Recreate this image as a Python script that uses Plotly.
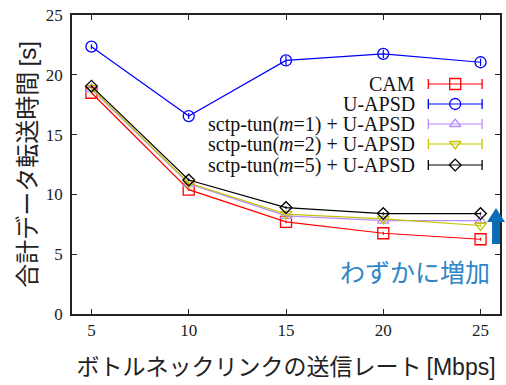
import plotly.graph_objects as go

# Bottleneck link rate [Mbps]
rates = [5, 10, 15, 20, 25]

# Total data transfer time [s] per scheme
cam = [18.5, 10.4, 7.7, 6.75, 6.25]
u_apsd = [22.35, 16.55, 21.2, 21.75, 21.05]
tun_m1 = [18.8, 10.9, 8.2, 7.8, 7.8]
tun_m2 = [18.9, 10.95, 8.35, 7.95, 7.4]
tun_m5 = [19.05, 11.2, 8.9, 8.4, 8.4]

# Error-bar half widths
cam_err = [0.12, 0.12, 0.12, 0.12, 0.12]
u_apsd_err = [0.2, 0.25, 0.4, 0.35, 0.3]
tun_m1_err = [0.1, 0.1, 0.1, 0.1, 0.1]
tun_m2_err = [0.1, 0.1, 0.1, 0.1, 0.1]
tun_m5_err = [0.1, 0.1, 0.1, 0.1, 0.1]

series_names = [
    "CAM",
    "U-APSD",
    "sctp-tun(<i>m</i>=1) + U-APSD",
    "sctp-tun(<i>m</i>=2) + U-APSD",
    "sctp-tun(<i>m</i>=5) + U-APSD",
]
series_values = [cam, u_apsd, tun_m1, tun_m2, tun_m5]
series_errors = [cam_err, u_apsd_err, tun_m1_err, tun_m2_err, tun_m5_err]
series_colors = ["#ff0000", "#0000ff", "#b68cff", "#c4c400", "#000000"]
series_symbols = ["square-open", "circle-open", "triangle-up-open",
                  "triangle-down-open", "diamond-open"]
series_sizes = [11, 11, 10, 10, 9]

W, H = 506, 385
L, R, T, B = 72, 4, 15, 71
PW, PH = W - L - R, H - T - B


def px_x(p):
    return (p - L) / PW


def px_y(p):
    return (H - B - p) / PH


fig = go.Figure()

for name, vals, errs, col, sym, size in zip(series_names, series_values, series_errors,
                                            series_colors, series_symbols, series_sizes):
    fig.add_trace(go.Scatter(
        x=rates, y=vals, name=name, mode="lines+markers",
        line=dict(color=col, width=1.2),
        marker=dict(symbol=sym, size=size, color=col, line=dict(width=1.3, color=col)),
        error_y=dict(type="data", array=errs, color=col, thickness=1.2, width=0),
        showlegend=False,
    ))

# Key: label on the left, sample line with end caps and marker on the right
key_rows = [84, 104, 124, 144, 165]
key_x0, key_x1, key_xm, key_text_x = 430, 484, 457, 419
for name, col, sym, size, row in zip(series_names, series_colors, series_symbols,
                                     series_sizes, key_rows):
    yk = px_y(row)
    fig.add_trace(go.Scatter(
        x=[px_x(key_x0), px_x(key_x1)], y=[yk, yk], mode="lines+markers",
        line=dict(color=col, width=1.2),
        marker=dict(symbol="line-ns", size=7, line=dict(width=1.3, color=col)),
        xaxis="x2", yaxis="y2", showlegend=False, hoverinfo="skip",
    ))
    fig.add_trace(go.Scatter(
        x=[px_x(key_xm)], y=[yk], mode="markers",
        marker=dict(symbol=sym, size=size, color=col, line=dict(width=1.3, color=col)),
        xaxis="x2", yaxis="y2", showlegend=False, hoverinfo="skip",
    ))
    fig.add_annotation(
        x=px_x(key_text_x), y=yk, xref="paper", yref="paper",
        text=name, showarrow=False, xanchor="right", yanchor="middle",
        font=dict(family="Liberation Serif", size=20, color="#111111"),
    )

# Callout: slight increase
fig.add_annotation(
    x=px_x(494), y=px_y(271), xref="paper", yref="paper",
    text="わずかに増加", showarrow=False, xanchor="right", yanchor="middle",
    font=dict(family="Noto Sans CJK JP", size=25, color="#2e86c8"),
)

# Up arrow at the right edge
cx, tip, neck, base = 498, 208, 222, 244
hw, bw = 9, 4
pts = [(cx, tip), (cx + hw, neck), (cx + bw, neck), (cx + bw, base),
       (cx - bw, base), (cx - bw, neck), (cx - hw, neck)]
path = "M " + " L ".join(f"{px_x(a):.4f},{px_y(b):.4f}" for a, b in pts) + " Z"
fig.add_shape(type="path", path=path, xref="paper", yref="paper",
              fillcolor="#0b6cb6", line=dict(width=0), layer="above")

tick_font = dict(family="Liberation Serif", size=17, color="#222222")
fig.update_layout(
    width=W, height=H,
    margin=dict(l=L, r=R, t=T, b=B),
    paper_bgcolor="white", plot_bgcolor="white",
    xaxis=dict(
        range=[4, 26], tickvals=rates, ticks="inside", ticklen=5, tickwidth=1,
        tickcolor="#222222", showline=True, linewidth=1.6, linecolor="#222222",
        mirror="ticks", showgrid=False, zeroline=False, tickfont=tick_font,
        title=dict(text="ボトルネックリンクの送信レート <span style='font-family:Liberation Sans'>[Mbps]</span>",
                   font=dict(family="Noto Sans CJK JP", size=23, color="#222222"),
                   standoff=20),
    ),
    yaxis=dict(
        range=[0, 25], tickvals=[0, 5, 10, 15, 20, 25], ticks="inside", ticklen=5,
        tickwidth=1, tickcolor="#222222", showline=True, linewidth=1.6,
        linecolor="#222222", mirror="ticks", showgrid=False, zeroline=False,
        tickfont=tick_font, ticklabelstandoff=4,
        title=dict(text="合計データ転送時間 <span style='font-family:Liberation Sans'>[s]</span>",
                   font=dict(family="Noto Sans CJK JP", size=24, color="#222222"),
                   standoff=2),
    ),
    xaxis2=dict(range=[0, 1], overlaying="x", visible=False, fixedrange=True),
    yaxis2=dict(range=[0, 1], overlaying="y", visible=False, fixedrange=True),
)

fig.write_html("out.html")
